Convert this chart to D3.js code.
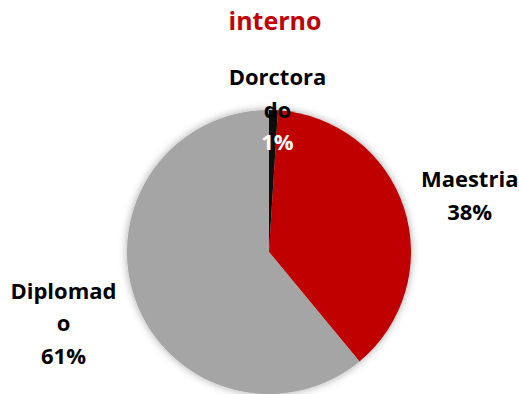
<!DOCTYPE html>
<html>
<head>
<meta charset="utf-8">
<script src="https://cdn.jsdelivr.net/npm/d3@7"></script>
<style>
  html, body { margin: 0; padding: 0; background: #fff; }
  svg { display: block; }
  text { font-family: "Open Sans", "Noto Sans", sans-serif; font-weight: 700; }
</style>
</head>
<body>
<svg id="chart" width="519" height="394"></svg>
<script>
// Program type shares (percent)
const categories = ["Dorctorado", "Maestria", "Diplomado"];
const values = [1, 38, 61];
const labelLines = [["Dorctora", "do"], ["Maestria"], ["Diplomad", "o"]];
const colors = ["#0d0d0d", "#c00000", "#a5a5a5"];
const pctColors = ["#ffffff", "#000000", "#000000"];
const title = "interno";

const W = 519, H = 394;
const cx = 269, cy = 252, R = 142;

const svg = d3.select("#chart");

// soft glow around the pie
const defs = svg.append("defs");
const f = defs.append("filter").attr("id", "glow")
  .attr("x", "-20%").attr("y", "-20%").attr("width", "140%").attr("height", "140%");
f.append("feGaussianBlur").attr("in", "SourceAlpha").attr("stdDeviation", 4).attr("result", "b");
f.append("feComponentTransfer").attr("in", "b").attr("result", "s")
  .append("feFuncA").attr("type", "linear").attr("slope", 0.35);
const m = f.append("feMerge");
m.append("feMergeNode").attr("in", "s");
m.append("feMergeNode").attr("in", "SourceGraphic");

svg.append("text")
  .attr("x", 275).attr("y", 30)
  .attr("text-anchor", "middle")
  .attr("font-size", 25)
  .attr("fill", "#c00000")
  .text(title);

const data = categories.map((c, i) => ({ name: c, value: values[i], i }));
const pie = d3.pie().value(d => d.value).sort(null);
const arcs = pie(data);
const arc = d3.arc().innerRadius(0).outerRadius(R);

const g = svg.append("g").attr("transform", `translate(${cx},${cy})`);
g.append("g").attr("filter", "url(#glow)")
  .selectAll("path").data(arcs).join("path")
  .attr("d", arc)
  .attr("fill", d => colors[d.data.i]);

// labels: tiny slices sit on the rim, others outside the pie
const outerLabel = d3.arc().innerRadius(211).outerRadius(211);
const rimLabel = d3.arc().innerRadius(142).outerRadius(142);
const lineH = 32.5, fs = 22;

arcs.forEach(d => {
  const small = (d.endAngle - d.startAngle) < 0.2;
  let [x, y] = (small ? rimLabel : outerLabel).centroid(d);
  if (small) x += 4;
  else if (x > 0) y += 9;
  else x -= 7;
  const lines = labelLines[d.data.i].concat([d3.format(".0%")(d.data.value / 100)]);
  const total = lines.length;
  const t = g.append("text")
    .attr("text-anchor", "middle")
    .attr("font-size", fs);
  lines.forEach((ln, k) => {
    t.append("tspan")
      .attr("x", x)
      .attr("y", y + (k - (total - 1) / 2) * lineH + fs * 0.35)
      .attr("fill", k === total - 1 ? pctColors[d.data.i] : "#000")
      .text(ln);
  });
});
</script>
</body>
</html>
